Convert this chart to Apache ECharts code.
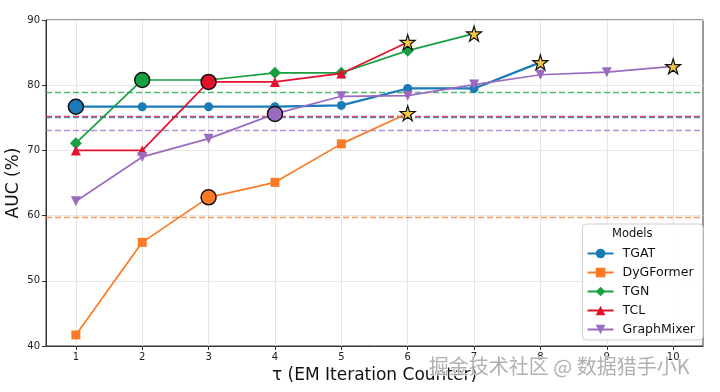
<!DOCTYPE html>
<html><head><meta charset="utf-8">
<script src="https://cdn.jsdelivr.net/npm/echarts@6/dist/echarts.min.js"></script>
<style>html,body{margin:0;padding:0;background:#fff}#c{width:720px;height:392px}</style>
</head><body><div id="c"></div>
<script>
var iterations = [1,2,3,4,5,6,7,8,9,10];
var yTicks = [40,50,60,70,80,90];
var seriesNames = ['TGAT','DyGFormer','TGN','TCL','GraphMixer'];
var tgat = [76.7,76.7,76.7,76.7,76.9,79.5,79.5,83.5];
var dygformer = [41.7,55.9,62.8,65.1,71.0,75.7];
var tgn = [71.1,80.8,80.8,81.9,81.9,85.3,87.9];
var tcl = [70.0,70.0,80.5,80.5,81.8,86.6];
var graphmixer = [62.2,69.0,71.8,75.6,78.3,78.4,80.1,81.6,82.0,82.9];
// baseline (dashed) values
var baselines = [75.05,59.7,78.9,75.2,73.05];
// index of highlighted (circled) point per series
var highlightIdx = [0,2,1,2,3];

var colors = ['#1a7bb8','#fb7a26','#18a040','#e3102f','#9a6bc0'];
var symbols = ['circle','rect','diamond','triangle','path://M0,0 L10,0 L5,9 Z'];
var symbolSizes = [9,9,12,10,10];
var starPath = 'path://M50,0 L61,35 L98,35 L68,57 L79,91 L50,70 L21,91 L32,57 L2,35 L39,35 Z';
var allData = [tgat,dygformer,tgn,tcl,graphmixer];
var FONT = 'DejaVu Sans';

var series = allData.map(function(vals, s){
  var data = vals.map(function(v, i){
    var item = {value:[iterations[i], v]};
    if (i === vals.length-1) {
      item.symbol = starPath; item.symbolSize = 15;
      item.itemStyle = {color:'#f3c744', borderColor:'#111', borderWidth:1.2};
    } else if (i === highlightIdx[s]) {
      item.symbol = 'circle'; item.symbolSize = 15;
      item.itemStyle = {color:colors[s], borderColor:'#111', borderWidth:1.5};
    }
    return item;
  });
  return {
    name: seriesNames[s], type:'line', data:data,
    symbol: symbols[s], symbolSize: symbolSizes[s],
    showAllSymbol:true,
    lineStyle:{color:colors[s], width:s===0?2.2:1.7},
    itemStyle:{color:colors[s]},
    z: 3+s,
    markLine:{
      silent:true, symbol:'none', label:{show:false}, z:2,
      lineStyle:{color:colors[s], type:[6,3], width:1.3, opacity:0.75},
      data:[{yAxis: baselines[s]}]
    }
  };
});

// vertical grid lines at each iteration tick
series.push({
  type:'line', data:[], silent:true, z:0,
  markLine:{silent:true, symbol:'none', label:{show:false}, z:0,
    lineStyle:{color:'#e6e6e6', type:'solid', width:1},
    data: iterations.map(function(x){return {xAxis:x};})}
});

var option = {
  animation:false,
  color: colors,
  textStyle:{fontFamily:FONT},
  grid:{left:46, right:17, top:20, bottom:46, show:true, borderColor:'#333', borderWidth:1, containLabel:false, outerBoundsMode:'none'},
  xAxis:{
    type:'value', min:0.55, max:10.45,
    name:'τ (EM Iteration Counter)', nameLocation:'middle', nameGap:21, nameMoveOverlap:false,
    nameTextStyle:{fontSize:17, color:'#111', fontFamily:FONT},
    axisLine:{lineStyle:{color:'#333'}},
    axisTick:{show:true, customValues:iterations, length:4, lineStyle:{color:'#333'}},
    axisLabel:{customValues:iterations, fontSize:10, color:'#222', margin:6, fontFamily:FONT},
    splitLine:{show:false}
  },
  yAxis:{
    type:'value', min:yTicks[0], max:yTicks[yTicks.length-1], interval:10,
    name:'AUC (%)', nameLocation:'middle', nameGap:24, nameMoveOverlap:false,
    nameTextStyle:{fontSize:17, color:'#111', fontFamily:FONT},
    axisLine:{show:true, lineStyle:{color:'#333'}},
    axisTick:{show:true, length:4, lineStyle:{color:'#333'}},
    axisLabel:{fontSize:10, color:'#222', margin:6, fontFamily:FONT},
    splitLine:{show:true, lineStyle:{color:'#e8e8e8', width:1}}
  },
  legend:{
    data:seriesNames, orient:'vertical', right:17, top:224, z:20,
    padding:[23,8,4,4], itemGap:6, itemWidth:26, itemHeight:12,
    backgroundColor:'rgba(255,255,255,0.9)', borderColor:'#d0d0d0', borderWidth:1, borderRadius:4,
    textStyle:{fontSize:12.5, color:'#111', fontFamily:FONT, padding:[0,0,0,4]}
  },
  graphic:[
    {type:'text', left:612, top:228, z:100, style:{text:'Models', fontSize:11.5, fill:'#111', fontFamily:FONT}},
    {type:'text', left:428, top:356, z:200, style:{text:'掘金技术社区 @ 数据猎手小K', fontSize:20, fill:'rgba(150,150,150,0.75)', stroke:'rgba(255,255,255,0.8)', lineWidth:1.5, fontFamily:'Noto Sans CJK SC'}}
  ],
  series: series
};
var chart = echarts.init(document.getElementById('c'), null, {renderer:'canvas'});
chart.setOption(option);
</script>
</body></html>
